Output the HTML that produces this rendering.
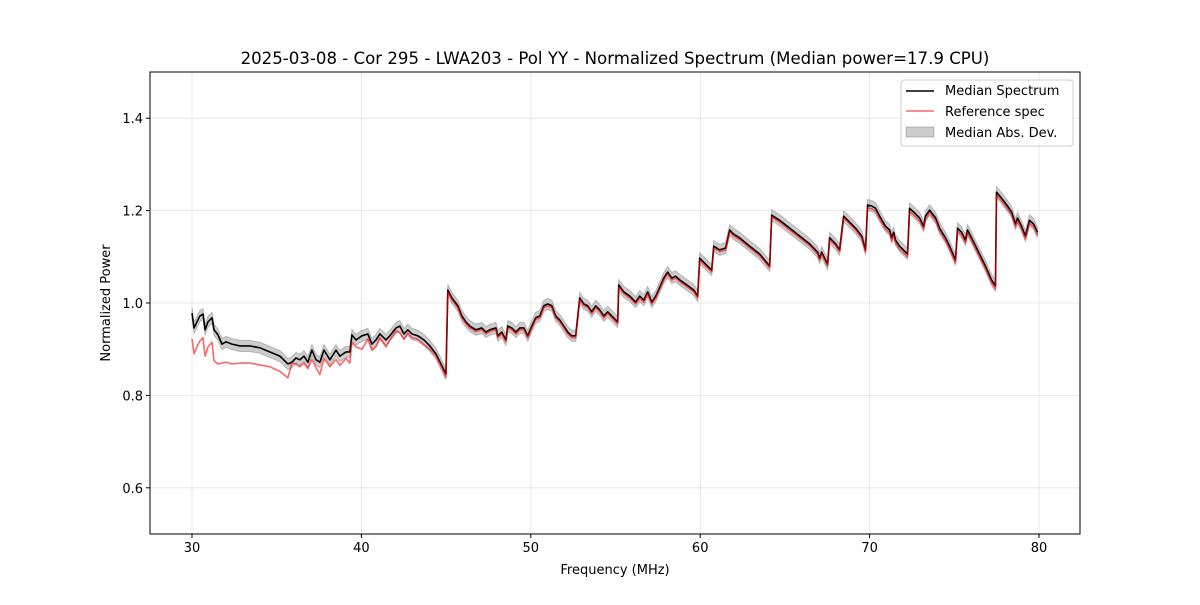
<!DOCTYPE html>
<html><head><meta charset="utf-8"><style>
body{margin:0;background:#fff;font-family:"Liberation Sans","DejaVu Sans",sans-serif;}
svg text{font-family:"DejaVu Sans","Liberation Sans",sans-serif;}
</style></head><body>
<svg id="chart" width="1200" height="600" xmlns="http://www.w3.org/2000/svg"></svg>
<script>
const freqs=[30.00,30.12,30.29,30.47,30.65,30.77,30.94,31.18,31.30,31.53,31.77,32.01,32.36,32.83,33.42,34.01,34.60,35.19,35.66,35.90,36.14,36.37,36.61,36.84,37.08,37.32,37.55,37.79,38.14,38.50,38.73,39.09,39.32,39.44,39.68,40.03,40.38,40.62,40.86,41.09,41.45,41.68,42.04,42.27,42.51,42.74,42.98,43.33,43.69,44.04,44.40,44.75,44.99,
45.10,45.34,45.69,45.93,46.17,46.40,46.76,47.11,47.35,47.58,47.94,48.05,48.29,48.53,48.64,48.88,49.12,49.35,49.59,49.82,50.06,50.29,50.53,50.77,51.00,51.24,51.47,51.71,51.95,52.18,52.42,52.65,52.89,53.13,53.36,53.60,53.83,54.07,54.31,54.54,54.78,55.13,55.19,55.49,55.84,56.19,56.43,56.67,56.90,57.14,57.38,57.85,58.08,58.32,58.55,58.79,59.14,59.62,59.85,59.97,60.32,60.68,60.80,61.15,61.50,61.74,61.98,62.33,62.92,63.51,64.10,64.22,64.69,65.28,65.87,66.46,66.93,67.05,67.17,67.52,67.64,67.99,68.23,68.47,68.82,69.17,69.53,69.76,69.88,70.12,70.35,70.59,70.94,71.18,71.30,71.42,71.53,71.77,72.24,72.36,72.60,72.95,73.19,73.30,73.54,73.90,74.13,74.48,74.72,75.07,75.19,75.43,75.66,75.78,76.02,76.37,76.61,76.84,77.20,77.43,77.49,77.79,78.14,78.38,78.61,78.73,78.97,79.20,79.44,79.68,79.91];
const medianSpec=[0.978,0.946,0.959,0.972,0.976,0.942,0.959,0.968,0.942,0.931,0.911,0.916,0.911,0.907,0.907,0.903,0.894,0.885,0.868,0.872,0.881,0.877,0.885,0.872,0.898,0.877,0.872,0.898,0.877,0.898,0.885,0.894,0.894,0.931,0.920,0.929,0.933,0.911,0.920,0.933,0.920,0.929,0.946,0.950,0.933,0.942,0.933,0.929,0.920,0.907,0.890,0.864,0.846,
1.028,1.011,0.994,0.972,0.959,0.950,0.942,0.946,0.937,0.942,0.946,0.929,0.937,0.920,0.950,0.946,0.937,0.946,0.946,0.929,0.950,0.968,0.972,0.994,0.998,0.994,0.972,0.963,0.950,0.937,0.929,0.929,1.011,0.998,0.994,0.981,0.994,0.985,0.972,0.981,0.972,0.959,1.039,1.024,1.015,1.002,1.015,1.006,1.024,1.002,1.015,1.054,1.067,1.054,1.058,1.050,1.041,1.028,1.015,1.097,1.084,1.071,1.123,1.115,1.119,1.158,1.149,1.141,1.123,1.106,1.080,1.190,1.179,1.162,1.145,1.128,1.110,1.097,1.110,1.084,1.141,1.128,1.115,1.188,1.175,1.162,1.145,1.115,1.212,1.210,1.205,1.188,1.166,1.158,1.141,1.153,1.136,1.123,1.106,1.205,1.197,1.184,1.166,1.188,1.201,1.184,1.162,1.141,1.123,1.093,1.162,1.153,1.136,1.158,1.141,1.115,1.097,1.080,1.050,1.037,1.240,1.227,1.210,1.197,1.171,1.184,1.166,1.145,1.179,1.171,1.153];
const refSpec=[0.922,0.890,0.905,0.918,0.925,0.885,0.905,0.915,0.875,0.868,0.870,0.872,0.868,0.870,0.870,0.866,0.862,0.852,0.838,0.870,0.868,0.862,0.870,0.858,0.878,0.860,0.845,0.880,0.862,0.878,0.865,0.880,0.870,0.915,0.905,0.900,0.922,0.898,0.905,0.925,0.905,0.920,0.940,0.935,0.922,0.935,0.925,0.922,0.910,0.900,0.885,0.860,0.840,
1.024,1.007,0.990,0.968,0.955,0.946,0.938,0.942,0.933,0.938,0.942,0.925,0.933,0.916,0.946,0.942,0.933,0.942,0.942,0.925,0.946,0.964,0.968,0.990,0.994,0.990,0.968,0.959,0.946,0.933,0.925,0.925,1.007,0.994,0.990,0.977,0.990,0.981,0.968,0.977,0.968,0.955,1.035,1.020,1.011,0.998,1.011,1.002,1.020,0.998,1.011,1.050,1.063,1.050,1.054,1.046,1.037,1.024,1.011,1.093,1.080,1.067,1.119,1.111,1.115,1.154,1.145,1.137,1.119,1.102,1.076,1.186,1.175,1.158,1.141,1.124,1.106,1.093,1.106,1.080,1.137,1.124,1.111,1.184,1.171,1.158,1.141,1.111,1.206,1.204,1.199,1.182,1.160,1.152,1.135,1.147,1.130,1.117,1.100,1.199,1.191,1.178,1.160,1.182,1.195,1.178,1.156,1.135,1.117,1.087,1.156,1.147,1.130,1.152,1.135,1.109,1.091,1.074,1.044,1.031,1.234,1.221,1.204,1.191,1.165,1.178,1.160,1.139,1.173,1.165,1.147];
const madValue=0.012;
const xTicks=[30,40,50,60,70,80];
const yTicks=[0.6,0.8,1.0,1.2,1.4];
const L=150,R=1080,T=72,B=534,xMin=27.52,xMax=82.42,yMin=0.5,yMax=1.5;
const sx=v=>L+(v-xMin)/(xMax-xMin)*(R-L);
const sy=v=>B-(v-yMin)/(yMax-yMin)*(B-T);
const NS='http://www.w3.org/2000/svg';
const svg=document.getElementById('chart');
function mk(tag,attrs,parent){const e=document.createElementNS(NS,tag);for(const k in attrs)e.setAttribute(k,attrs[k]);(parent||svg).appendChild(e);return e;}
xTicks.forEach(t=>{const g=mk('line',{x1:sx(t),x2:sx(t),y1:T,y2:B,stroke:'#b0b0b0','stroke-opacity':0.35,'stroke-width':0.8});

});
yTicks.forEach(t=>{const g=mk('line',{x1:L,x2:R,y1:sy(t),y2:sy(t),stroke:'#b0b0b0','stroke-opacity':0.35,'stroke-width':0.8});

});
let up=freqs.map((f,i)=>sx(f)+','+sy(medianSpec[i]+madValue));
let dn=freqs.map((f,i)=>sx(f)+','+sy(medianSpec[i]-madValue)).reverse();
const band=mk('polygon',{points:up.concat(dn).join(' '),fill:'#999','fill-opacity':0.5,stroke:'#888','stroke-opacity':0.5,'stroke-width':1});


const med=mk('polyline',{points:freqs.map((f,i)=>sx(f)+','+sy(medianSpec[i])).join(' '),fill:'none',stroke:'#000','stroke-width':1.6,'stroke-linejoin':'round'});


const ref=mk('polyline',{points:freqs.map((f,i)=>sx(f)+','+sy(refSpec[i])).join(' '),fill:'none',stroke:'#ff0000','stroke-opacity':0.6,'stroke-width':1.6,'stroke-linejoin':'round'});


const fr=mk('rect',{x:L,y:T,width:R-L,height:B-T,fill:'none',stroke:'#000','stroke-width':1});


xTicks.forEach(t=>{mk('line',{x1:sx(t),x2:sx(t),y1:B,y2:B+4,stroke:'#000'});
const tx=mk('text',{x:sx(t),y:B+18,'text-anchor':'middle','font-size':13});tx.textContent=t;

});
yTicks.forEach(t=>{mk('line',{x1:L-4,x2:L,y1:sy(t),y2:sy(t),stroke:'#000'});
const tx=mk('text',{x:L-7,y:sy(t)+5,'text-anchor':'end','font-size':13});tx.textContent=t.toFixed(1);

});
</script>
<svg style="position:absolute;left:0;top:0" width="1200" height="600">
<text x="615" y="64" text-anchor="middle" font-size="16.6">2025-03-08 - Cor 295 - LWA203 - Pol YY - Normalized Spectrum (Median power=17.9 CPU)</text>
<text x="615" y="574" text-anchor="middle" font-size="13">Frequency (MHz)</text>
<text x="110" y="303" text-anchor="middle" font-size="13" transform="rotate(-90 110 303)">Normalized Power</text>
<g>
<rect x="901" y="80" width="172" height="66" rx="3" fill="#fff" fill-opacity="0.8" stroke="#ccc"/>
<line x1="906" x2="934" y1="91" y2="91" stroke="#000" stroke-width="1.6"/>
<text x="945" y="95" font-size="13">Median Spectrum</text>
<line x1="906" x2="934" y1="111" y2="111" stroke="#ff0000" stroke-opacity="0.6" stroke-width="1.6"/>
<text x="945" y="116" font-size="13">Reference spec</text>
<rect x="906" y="127" width="28" height="10" fill="#999" fill-opacity="0.5" stroke="#888" stroke-opacity="0.5"/>
<text x="945" y="137" font-size="13">Median Abs. Dev.</text>
</g>
</svg>
</body></html>
